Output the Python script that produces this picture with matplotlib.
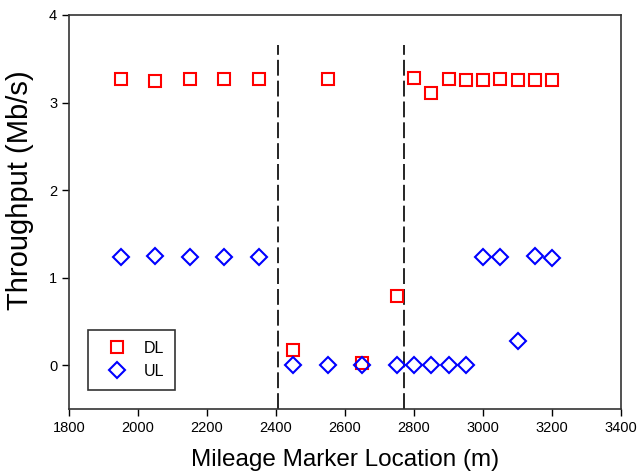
import matplotlib
matplotlib.use("Agg")
import matplotlib.pyplot as plt

# Messpunkte (Mileage Marker in m)
dl_x = [1950, 2050, 2150, 2250, 2350, 2450, 2550, 2650, 2750, 2800, 2850,
        2900, 2950, 3000, 3050, 3100, 3150, 3200]
dl_y = [3.27, 3.25, 3.27, 3.27, 3.27, 0.17, 3.27, 0.02, 0.79, 3.28, 3.11,
        3.27, 3.26, 3.26, 3.27, 3.26, 3.26, 3.26]
ul_x = [1950, 2050, 2150, 2250, 2350, 2450, 2550, 2650, 2750, 2800, 2850,
        2900, 2950, 3000, 3050, 3100, 3150, 3200]
ul_y = [1.24, 1.25, 1.24, 1.24, 1.24, 0.0, 0.0, 0.0, 0.0, 0.0, 0.0,
        0.0, 0.0, 1.24, 1.24, 0.28, 1.25, 1.23]
boundaries = [2405, 2770]

plt.rcParams['font.family'] = ['Liberation Sans', 'DejaVu Sans']

fig = plt.figure(figsize=(6.37, 4.72), dpi=100)
ax = fig.add_axes([69/637, 1-409/472, 552/637, 394/472])

# Grenzen der Abschnitte
for b in boundaries:
    ax.plot([b, b], [-0.5, 3.66], color='black', linestyle=(0, (9.5, 3)), linewidth=1.2)

ax.plot(dl_x, dl_y, linestyle='none', marker='s', markersize=8.5,
        markerfacecolor='none', markeredgecolor='red', markeredgewidth=1.5, label='DL')
ax.plot(ul_x, ul_y, linestyle='none', marker='D', markersize=8.5,
        markerfacecolor='none', markeredgecolor='blue', markeredgewidth=1.5, label='UL')

ax.set_xlim(1800, 3400)
ax.set_ylim(-0.5, 4)
ax.set_xticks(range(1800, 3401, 200))
ax.set_yticks([0, 1, 2, 3, 4])
ax.tick_params(labelsize=10.5, direction='out', length=5, width=1)
ax.set_xlabel('Mileage Marker Location (m)', fontsize=17.5, labelpad=10)
ax.set_ylabel('Throughput (Mb/s)', fontsize=21)
ax.yaxis.set_label_coords(-0.063, 0.556)
for s in ax.spines.values():
    s.set_linewidth(1.2)
    s.set_color('#333333')

leg = ax.legend(loc='lower left', bbox_to_anchor=(0.034, 0.048), borderaxespad=0,
                fontsize=11.5, frameon=True, fancybox=False, edgecolor='black',
                handlelength=2.2, handletextpad=0.6, borderpad=0.7, labelspacing=0.5)
leg.get_frame().set_linewidth(1.2)

fig.savefig('out.png', dpi=100)
